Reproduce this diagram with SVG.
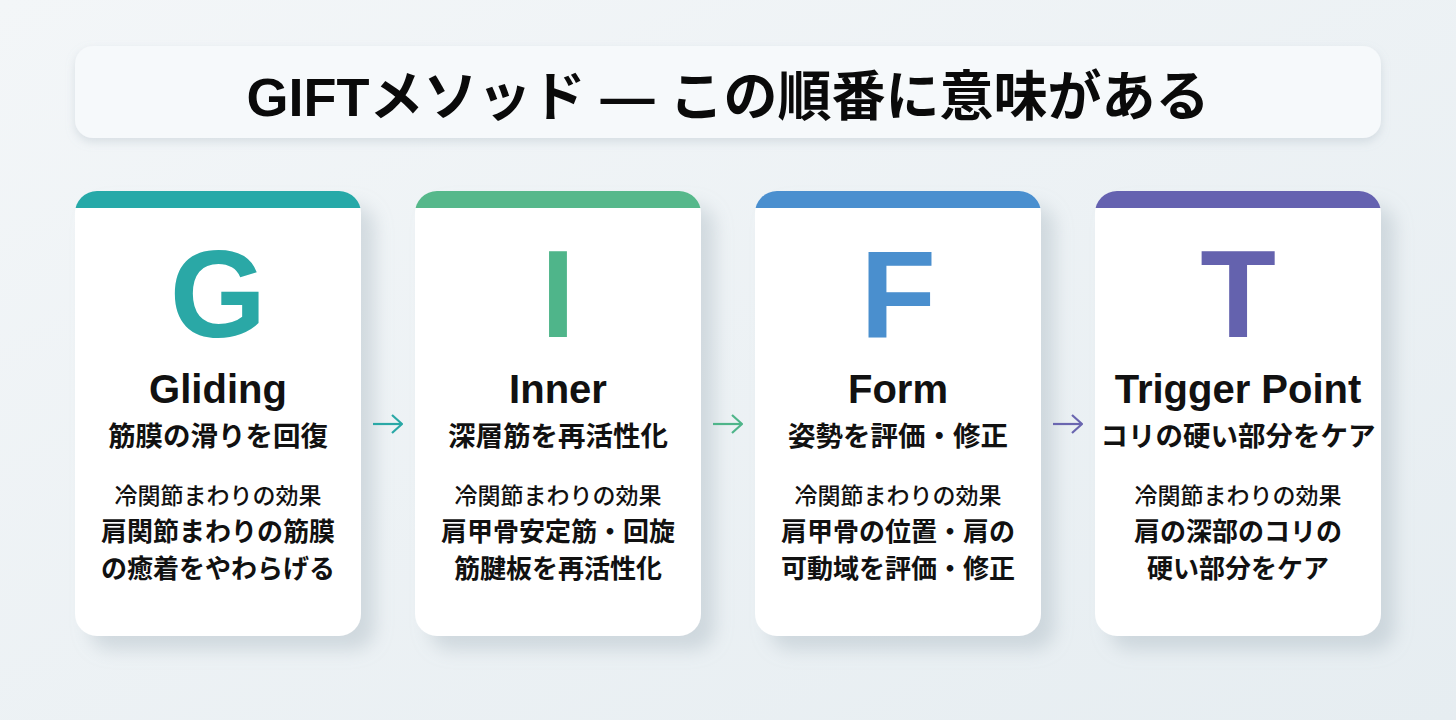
<svg xmlns="http://www.w3.org/2000/svg" width="1456" height="720" viewBox="0 0 1456 720">
<defs>
<linearGradient id="bg" x1="0" y1="0" x2="1" y2="1">
<stop offset="0" stop-color="#f3f6f8"/>
<stop offset="1" stop-color="#e6edf1"/>
</linearGradient>
<filter id="sh" x="-10%" y="-10%" width="135%" height="135%">
<feDropShadow dx="14" dy="14" stdDeviation="9" flood-color="#9aaab5" flood-opacity="0.35"/>
</filter>
<filter id="sh2" x="-5%" y="-20%" width="110%" height="150%">
<feDropShadow dx="0" dy="4" stdDeviation="5" flood-color="#9aaab5" flood-opacity="0.3"/>
</filter>
<clipPath id="c1"><rect x="75" y="191" width="286" height="445" rx="22"/></clipPath>
<clipPath id="c2"><rect x="415" y="191" width="286" height="445" rx="22"/></clipPath>
<clipPath id="c3"><rect x="755" y="191" width="286" height="445" rx="22"/></clipPath>
<clipPath id="c4"><rect x="1095" y="191" width="286" height="445" rx="22"/></clipPath>
<marker id="ah1" viewBox="0 0 12 20" refX="11" refY="10" markerWidth="12" markerHeight="20" markerUnits="userSpaceOnUse" orient="auto"><path d="M1 1 L11 10 L1 19" fill="none" stroke="#2aa8a6" stroke-width="2.2"/></marker>
<marker id="ah2" viewBox="0 0 12 20" refX="11" refY="10" markerWidth="12" markerHeight="20" markerUnits="userSpaceOnUse" orient="auto"><path d="M1 1 L11 10 L1 19" fill="none" stroke="#4fb58a" stroke-width="2.2"/></marker>
<marker id="ah3" viewBox="0 0 12 20" refX="11" refY="10" markerWidth="12" markerHeight="20" markerUnits="userSpaceOnUse" orient="auto"><path d="M1 1 L11 10 L1 19" fill="none" stroke="#6a66b0" stroke-width="2.2"/></marker>
</defs>
<style>
.card{fill:#ffffff;filter:url(#sh)}
.big{font-family:"Liberation Sans","Noto Sans CJK JP",sans-serif;font-weight:700;font-size:124px;text-anchor:middle}
.name{font-family:"Liberation Sans","Noto Sans CJK JP",sans-serif;font-weight:700;font-size:40px;text-anchor:middle;fill:#111}
.sub{font-family:"Noto Sans CJK JP",sans-serif;font-weight:700;font-size:27.5px;text-anchor:middle;fill:#111}
.eff{font-family:"Noto Sans CJK JP",sans-serif;font-weight:500;font-size:23px;text-anchor:middle;fill:#111}
.desc{font-family:"Noto Sans CJK JP",sans-serif;font-weight:700;font-size:26px;text-anchor:middle;fill:#111}
.title{font-family:"Liberation Sans","Noto Sans CJK JP",sans-serif;font-weight:700;font-size:54px;text-anchor:middle;fill:#0a0a0a}
.arr{fill:none;stroke-width:2.2}
</style>
<rect width="1456" height="720" fill="url(#bg)"/>
<g id="title">
<rect x="75" y="46" width="1306" height="92" rx="18" fill="#f6f9fb" filter="url(#sh2)"/>
<text class="title" x="728" y="116">GIFTメソッド — この順番に意味がある</text>
</g>
<g id="card-g">
<rect class="card" x="75" y="191" width="286" height="445" rx="22"/>
<rect x="75" y="191" width="286" height="17" fill="#26a9a8" clip-path="url(#c1)"/>
<text class="big" x="218" y="337" fill="#2aa8a6">G</text>
<text class="name" x="218" y="403">Gliding</text>
<text class="sub" x="218" y="446">筋膜の滑りを回復</text>
<text class="eff" x="218" y="504">冷関節まわりの効果</text>
<text class="desc" x="218" y="541">肩関節まわりの筋膜</text>
<text class="desc" x="218" y="578">の癒着をやわらげる</text>
</g>
<g id="card-i">
<rect class="card" x="415" y="191" width="286" height="445" rx="22"/>
<rect x="415" y="191" width="286" height="17" fill="#56b88b" clip-path="url(#c2)"/>
<text class="big" x="558" y="337" fill="#4fb58a">I</text>
<text class="name" x="558" y="403">Inner</text>
<text class="sub" x="558" y="446">深層筋を再活性化</text>
<text class="eff" x="558" y="504">冷関節まわりの効果</text>
<text class="desc" x="558" y="541">肩甲骨安定筋・回旋</text>
<text class="desc" x="558" y="578">筋腱板を再活性化</text>
</g>
<g id="card-f">
<rect class="card" x="755" y="191" width="286" height="445" rx="22"/>
<rect x="755" y="191" width="286" height="17" fill="#4a8fcf" clip-path="url(#c3)"/>
<text class="big" x="898" y="337" fill="#4a8fce">F</text>
<text class="name" x="898" y="403">Form</text>
<text class="sub" x="898" y="446">姿勢を評価・修正</text>
<text class="eff" x="898" y="504">冷関節まわりの効果</text>
<text class="desc" x="898" y="541">肩甲骨の位置・肩の</text>
<text class="desc" x="898" y="578">可動域を評価・修正</text>
</g>
<g id="card-t">
<rect class="card" x="1095" y="191" width="286" height="445" rx="22"/>
<rect x="1095" y="191" width="286" height="17" fill="#6562b0" clip-path="url(#c4)"/>
<text class="big" x="1238" y="337" fill="#6462ae">T</text>
<text class="name" x="1238" y="403">Trigger Point</text>
<text class="sub" x="1238" y="446">コリの硬い部分をケア</text>
<text class="eff" x="1238" y="504">冷関節まわりの効果</text>
<text class="desc" x="1238" y="541">肩の深部のコリの</text>
<text class="desc" x="1238" y="578">硬い部分をケア</text>
</g>
<g id="connectors">
<path class="arr" d="M373 424 H402" stroke="#2aa8a6" marker-end="url(#ah1)"/>
<path class="arr" d="M713 424 H742" stroke="#4fb58a" marker-end="url(#ah2)"/>
<path class="arr" d="M1053 424 H1082" stroke="#6a66b0" marker-end="url(#ah3)"/>
</g>
</svg>
